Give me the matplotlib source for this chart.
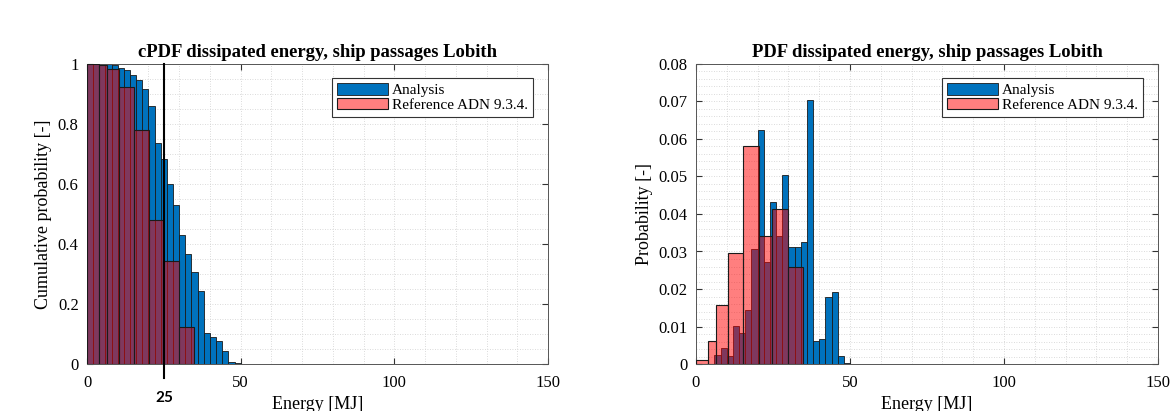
import numpy as np
import matplotlib
matplotlib.use('Agg')
import matplotlib.pyplot as plt
from matplotlib.ticker import MultipleLocator
import matplotlib.transforms as mtransforms

# Analysis: 2 MJ bins from 0 to 50 MJ
blue_edges = np.arange(0, 52, 2)
blue_cpdf = [1.0, 1.0, 1.0, 1.0, 0.995, 0.986, 0.98, 0.962, 0.945, 0.916, 0.86, 0.735,
             0.683, 0.599, 0.53, 0.43, 0.367, 0.308, 0.243, 0.102, 0.091, 0.078, 0.043,
             0.008, 0.002]
blue_pdf = [0.0, 0.0, 0.0, 0.0024, 0.0044, 0.0021, 0.0101, 0.0084, 0.0144, 0.0306, 0.0624,
            0.0273, 0.0433, 0.034, 0.0504, 0.0313, 0.0313, 0.0324, 0.0704, 0.0062, 0.0068,
            0.0178, 0.0191, 0.0021, 0.0002]

# Reference ADN 9.3.4.
red_edges = [0, 4, 6.5, 10.5, 15.2, 20.3, 24.6, 29.8, 34.9]
red_cpdf = [1.0, 0.998, 0.983, 0.924, 0.78, 0.48, 0.343, 0.124]
red_pdf = [0.0011, 0.0062, 0.0157, 0.0295, 0.0581, 0.034, 0.0412, 0.0258]

titles = ['cPDF dissipated energy, ship passages Lobith', 'PDF dissipated energy, ship passages Lobith']
ylabels = ['Cumulative probability [-]', 'Probability [-]']
labels = ['Analysis', 'Reference ADN 9.3.4.']
xticks = [0, 50, 100, 150]
yticks1 = [0, 0.2, 0.4, 0.6, 0.8, 1]
yticklabels1 = ['0', '0.2', '0.4', '0.6', '0.8', '1']
yticks2 = [0, 0.01, 0.02, 0.03, 0.04, 0.05, 0.06, 0.07, 0.08]
yticklabels2 = ['0', '0.01', '0.02', '0.03', '0.04', '0.05', '0.06', '0.07', '0.08']
marker_x = 25

plt.rcParams['font.family'] = ['Liberation Serif', 'DejaVu Serif']

fig = plt.figure(figsize=(11.75, 4.11), dpi=100)
W, H = 1175, 411
ax1 = fig.add_axes([87 / W, (H - 364) / H, 461 / W, 300 / H])
ax2 = fig.add_axes([696 / W, (H - 364) / H, 462 / W, 300 / H])

blue = '#0072BD'
red = (1.0, 0.0, 0.0, 0.5)

for ax, bvals, rvals, title, ylab in [(ax1, blue_cpdf, red_cpdf, titles[0], ylabels[0]),
                                      (ax2, blue_pdf, red_pdf, titles[1], ylabels[1])]:
    be = np.array(blue_edges, dtype=float)
    re = np.array(red_edges, dtype=float)
    ax.bar(be[:-1], bvals, width=np.diff(be), align='edge', color=blue,
           edgecolor='#1a1a1a', linewidth=0.6, label=labels[0], zorder=2)
    ax.bar(re[:-1], rvals, width=np.diff(re), align='edge', facecolor=red,
           edgecolor='#1a1a1a', linewidth=0.8, label=labels[1], zorder=3)
    ax.set_xlim(0, 150)
    ax.set_xticks(xticks, [str(t) for t in xticks])
    ax.xaxis.set_minor_locator(MultipleLocator(10))
    ax.grid(which='both', linestyle=(0, (1, 2)), color='#cfcfcf', linewidth=0.6, zorder=0)
    ax.set_axisbelow(True)
    ax.tick_params(which='major', direction='in', length=4, top=True, right=True,
                   labelsize=12, color='#333333', pad=8)
    ax.tick_params(axis='y', which='major', pad=6)
    ax.tick_params(which='minor', length=0)
    for s in ax.spines.values():
        s.set_color('#555555')
        s.set_linewidth(0.7)
    ax.set_title(title, fontsize=13.4, fontweight='bold', pad=5)
    ax.set_xlabel('Energy [MJ]', fontsize=13, labelpad=3.5)
    ax.set_ylabel(ylab, fontsize=13, labelpad=4)
    leg = ax.legend(loc='upper right', bbox_to_anchor=(1 - 15 / 461, 1 - 14 / 300),
                    borderaxespad=0, fancybox=False, framealpha=1, edgecolor='#333333',
                    fontsize=11, handlelength=3.3, handleheight=0.75, handletextpad=0.26,
                    labelspacing=0.05, borderpad=0.35)
    leg.get_frame().set_linewidth(0.8)

ax1.set_ylim(0, 1)
ax1.set_yticks(yticks1, yticklabels1)
ax1.yaxis.set_minor_locator(MultipleLocator(0.05))

ax2.set_ylim(0, 0.08)
ax2.set_yticks(yticks2, yticklabels2)
ax2.yaxis.set_minor_locator(MultipleLocator(0.002))

# vertical marker at 25 MJ on the cPDF chart
trans = mtransforms.blended_transform_factory(ax1.transData, ax1.transAxes)
ax1.plot([marker_x, marker_x], [-0.045, 1], transform=trans, color='k', lw=1.5,
         clip_on=False, zorder=5)
ax1.text(marker_x, -0.113, str(marker_x), transform=trans, ha='center', va='center',
         fontsize=11, fontweight='bold', family=['Lato', 'DejaVu Sans'])

fig.savefig('out.png', dpi=100)
